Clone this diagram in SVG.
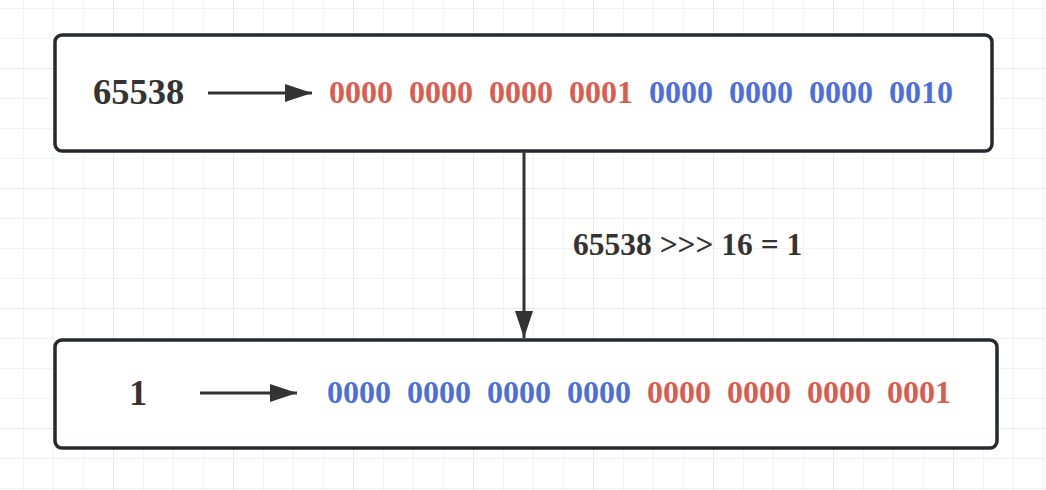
<svg xmlns="http://www.w3.org/2000/svg" width="1046" height="490" viewBox="0 0 1046 490">
  <defs>
    <pattern id="minor" patternUnits="userSpaceOnUse" x="23" y="8" width="30" height="30">
      <path d="M0 0V30M0 0H30" fill="none" stroke="#f2f2f2" stroke-width="2"/>
    </pattern>
    <pattern id="major" patternUnits="userSpaceOnUse" x="113" y="68" width="120" height="120">
      <path d="M0 0V120M0 0H120" fill="none" stroke="#e9e9e9" stroke-width="2"/>
    </pattern>
    <marker id="arrow" viewBox="0 0 27 18" refX="27" refY="9" markerWidth="27" markerHeight="18" markerUnits="userSpaceOnUse" orient="auto">
      <path d="M0 0L27 9L0 18Z" fill="#333333"/>
    </marker>
    <style>
      .box { fill: #ffffff; stroke: #242a30; stroke-width: 3.5; }
      .lbl { font-family: "Liberation Serif", "Times New Roman", serif; font-weight: bold; fill: #333333; }
      .bin { font-family: "Liberation Serif", "Times New Roman", serif; font-weight: bold; font-size: 32px; }
      .r { fill: #d85c52; }
      .b { fill: #4a6fe0; }
      .conn { fill: none; stroke: #333333; stroke-width: 3; }
    </style>
  </defs>
  <rect width="1046" height="490" fill="#ffffff"/>
  <rect width="1046" height="490" fill="url(#minor)"/>
  <rect width="1046" height="490" fill="url(#major)"/>

  <g id="node-top">
    <rect class="box" x="55" y="35" width="937" height="116" rx="7"/>
    <text class="lbl" x="93" y="104" font-size="36.5">65538</text>
    <line class="conn" x1="208" y1="93" x2="312" y2="93" marker-end="url(#arrow)"/>
    <text class="bin r" x="329" y="103">0000</text>
    <text class="bin r" x="409" y="103">0000</text>
    <text class="bin r" x="489" y="103">0000</text>
    <text class="bin r" x="569" y="103">0001</text>
    <text class="bin b" x="649" y="103">0000</text>
    <text class="bin b" x="729" y="103">0000</text>
    <text class="bin b" x="809" y="103">0000</text>
    <text class="bin b" x="889" y="103">0010</text>
  </g>

  <g id="node-bottom">
    <rect class="box" x="55" y="340" width="942" height="108" rx="7"/>
    <text class="lbl" x="129" y="405" font-size="36.5">1</text>
    <line class="conn" x1="200" y1="393" x2="297" y2="393" marker-end="url(#arrow)"/>
    <text class="bin b" x="327" y="403">0000</text>
    <text class="bin b" x="407" y="403">0000</text>
    <text class="bin b" x="487" y="403">0000</text>
    <text class="bin b" x="567" y="403">0000</text>
    <text class="bin r" x="647" y="403">0000</text>
    <text class="bin r" x="727" y="403">0000</text>
    <text class="bin r" x="807" y="403">0000</text>
    <text class="bin r" x="887" y="403">0001</text>
  </g>

  <g id="connectors">
    <line class="conn" x1="524" y1="151" x2="524" y2="338" marker-end="url(#arrow)"/>
    <text class="lbl" x="573" y="255" font-size="31.5">65538 &gt;&gt;&gt; 16 = 1</text>
  </g>
</svg>
